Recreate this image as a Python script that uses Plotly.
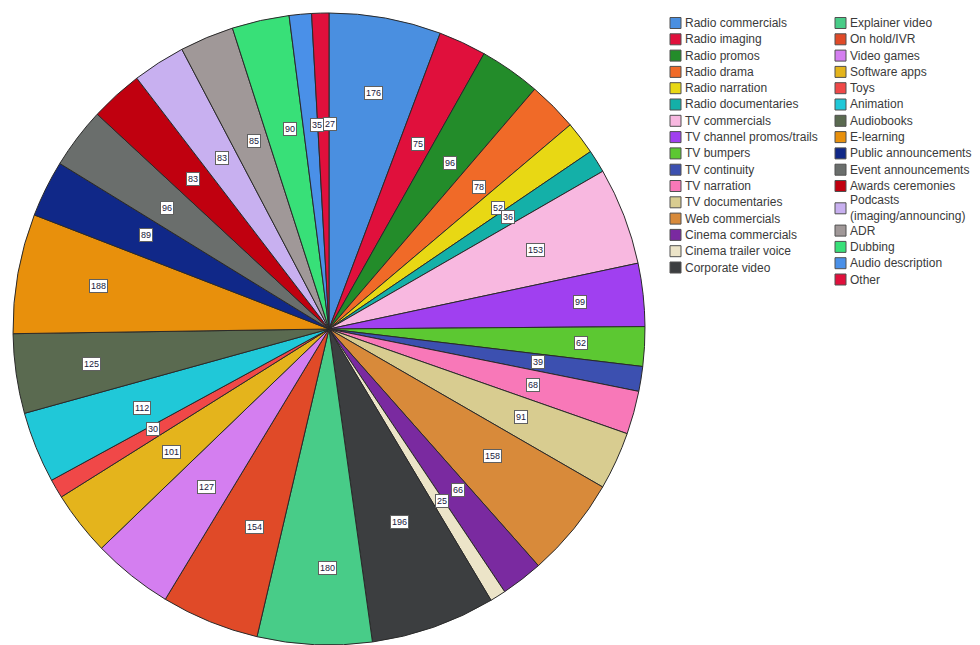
import math
import plotly.graph_objects as go

# Voice-over work categories and respondent counts
categories = [
    "Radio commercials", "Radio imaging", "Radio promos", "Radio drama",
    "Radio narration", "Radio documentaries", "TV commercials",
    "TV channel promos/trails", "TV bumpers", "TV continuity", "TV narration",
    "TV documentaries", "Web commercials", "Cinema commercials",
    "Cinema trailer voice", "Corporate video", "Explainer video",
    "On hold/IVR", "Video games", "Software apps", "Toys", "Animation",
    "Audiobooks", "E-learning", "Public announcements", "Event announcements",
    "Awards ceremonies", "Podcasts (imaging/announcing)", "ADR", "Dubbing",
    "Audio description", "Other",
]
counts = [
    176, 75, 96, 78, 52, 36, 153, 99, 62, 39, 68, 91, 158, 66, 25, 196,
    180, 154, 127, 101, 30, 112, 125, 188, 89, 96, 83, 83, 85, 90, 35, 27,
]
legend_labels = [
    "Radio commercials", "Radio imaging", "Radio promos", "Radio drama",
    "Radio narration", "Radio documentaries", "TV commercials",
    "TV channel promos/trails", "TV bumpers", "TV continuity", "TV narration",
    "TV documentaries", "Web commercials", "Cinema commercials",
    "Cinema trailer voice", "Corporate video", "Explainer video",
    "On hold/IVR", "Video games", "Software apps", "Toys", "Animation",
    "Audiobooks", "E-learning", "Public announcements", "Event announcements",
    "Awards ceremonies", "Podcasts<br>(imaging/announcing)", "ADR", "Dubbing",
    "Audio description", "Other",
]

colors = [
    "#4a8fe0", "#e0103c", "#238c2a", "#f06a28", "#e8d814", "#14b0a8",
    "#f8b8e0", "#a040f0", "#5cc832", "#3c50b0", "#f878b8", "#d8cc90",
    "#d88a3a", "#7a2aa0", "#ece4c8", "#3c3e40", "#48cc88", "#e04a28",
    "#d47ef0", "#e4b41c", "#f04848", "#20c8d8", "#5a6a50", "#e8900c",
    "#102888", "#6a6e6c", "#c0000f", "#c8b0f0", "#a09898", "#38e078",
    "#4a90e8", "#e0103c",
]

W, H = 980, 645
CX, CY, R = 329.0, 329.0, 316.0

# labels of these slices sit further out along the radius
outer_labels = {"Radio commercials": 0.78, "TV channel promos/trails": 0.80,
                "TV bumpers": 0.80, "Explainer video": 0.78,
                "Audiobooks": 0.79, "E-learning": 0.77,
                "TV commercials": 0.70, "On hold/IVR": 0.70}
inner_label_frac = 0.67

fig = go.Figure()
fig.add_trace(go.Pie(
    labels=categories,
    values=counts,
    sort=False,
    direction="clockwise",
    rotation=0,
    marker=dict(colors=colors, line=dict(color="#2a2a2a", width=1)),
    textinfo="none",
    hoverinfo="label+value",
    showlegend=False,
    domain=dict(x=[(CX - R) / W, (CX + R) / W], y=[0, 2 * R / H]),
))

annotations = []
shapes = []

# boxed value labels placed at each slice's mid-angle
total = sum(counts)
cum = 0
for name, v in zip(categories, counts):
    theta = 2 * math.pi * (cum + v / 2) / total
    cum += v
    r = R * outer_labels.get(name, inner_label_frac)
    px = CX + r * math.sin(theta)
    py = CY - r * math.cos(theta)
    annotations.append(dict(
        x=px / W, y=1 - py / H, xref="paper", yref="paper",
        text=str(v), showarrow=False,
        font=dict(family="Liberation Sans, Arial", size=9, color="#1a2040"),
        bgcolor="white", bordercolor="#606060", borderwidth=1, borderpad=1,
    ))

# two-column legend
col_x = [670, 835]
row0, row_h, sw = 23.0, 16.3, 11
per_col = 16
for i, (lab, col) in enumerate(zip(legend_labels, colors)):
    c = i // per_col
    j = i % per_col
    yc = row0 + j * row_h
    extra = 0.0
    if c == 1:
        # the two-line entry pushes the rows below it down
        k = legend_labels.index("Podcasts<br>(imaging/announcing)") - per_col
        if j == k:
            yc += 6
        elif j > k:
            yc += 12
    x0 = col_x[c]
    shapes.append(dict(
        type="rect", xref="paper", yref="paper",
        x0=x0 / W, x1=(x0 + sw) / W,
        y0=1 - (yc + sw / 2) / H, y1=1 - (yc - sw / 2) / H,
        fillcolor=col, line=dict(color="#505050", width=1),
    ))
    annotations.append(dict(
        x=(x0 + sw + 2) / W, y=1 - yc / H, xref="paper", yref="paper",
        xanchor="left", yanchor="middle", align="left",
        text=lab, showarrow=False,
        font=dict(family="Liberation Sans, Arial", size=12, color="#3a3a3a"),
    ))

fig.update_layout(
    width=W, height=H,
    margin=dict(l=0, r=0, t=0, b=0),
    paper_bgcolor="white", plot_bgcolor="white",
    annotations=annotations, shapes=shapes,
)

fig.write_html("out.html")
